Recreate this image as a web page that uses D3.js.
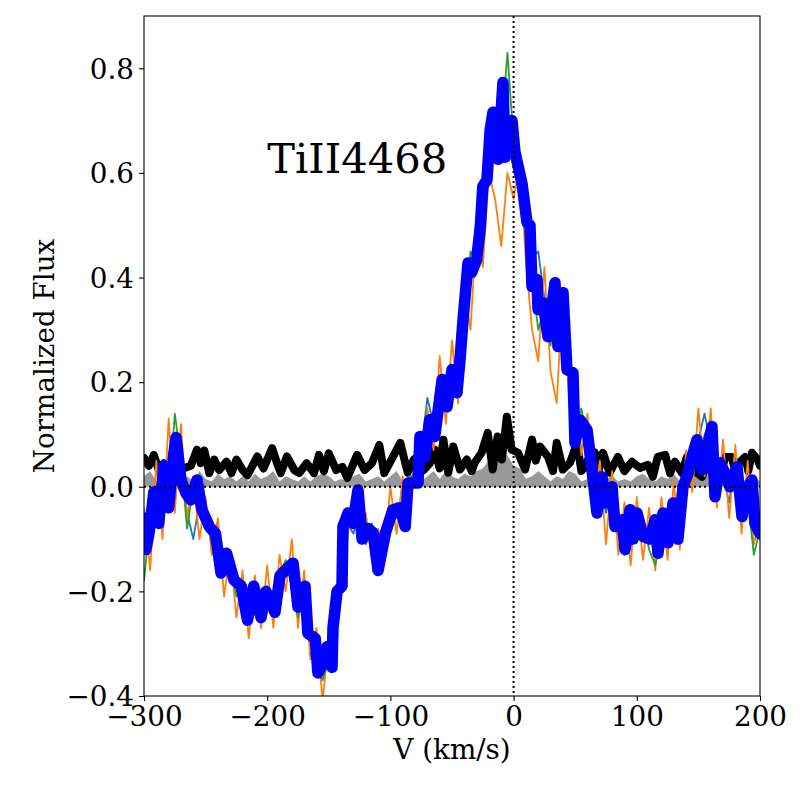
<!DOCTYPE html>
<html>
<head>
<meta charset="utf-8">
<script src="https://cdn.jsdelivr.net/npm/d3@7"></script>
<style>
  body { margin: 0; background: #fff; }
  text { font-family: 'DejaVu Serif', serif; }
</style>
</head>
<body>
<div id="app"></div>
<script>
// Data
const lineName = 'TiII4468';
const xTicks = [-300, -200, -100, 0, 100, 200];
const yTicks = [-0.4, -0.2, 0.0, 0.2, 0.4, 0.6, 0.8];

// 5 km/s grid used by the three thin spectra and the grey band
const vGrid = [-300, -295, -290, -285, -280, -275, -270, -265, -260, -255,
  -250, -245, -240, -235, -230, -225, -220, -215, -210, -205,
  -200, -195, -190, -185, -180, -175, -170, -165, -160, -155,
  -150, -145, -140, -135, -130, -125, -120, -115, -110, -105,
  -100, -95, -90, -85, -80, -75, -70, -65, -60, -55,
  -50, -45, -40, -35, -30, -25, -20, -15, -10, -5,
  0, 5, 10, 15, 20, 25, 30, 35, 40, 45,
  50, 55, 60, 65, 70, 75, 80, 85, 90, 95,
  100, 105, 110, 115, 120, 125, 130, 135, 140, 145,
  150, 155, 160, 165, 170, 175, 180, 185, 190, 195, 200];

const fluxTeal = [-0.1, -0.05, -0.02, 0.03, -0.04, 0.09, 0.03, -0.05, -0.1, -0.03,
  -0.07, -0.09, -0.1, -0.16, -0.17, -0.2, -0.22, -0.21, -0.22, -0.22,
  -0.19, -0.24, -0.2, -0.15, -0.17, -0.24, -0.19, -0.3, -0.31, -0.36,
  -0.3, -0.24, -0.17, -0.07, -0.09, -0.04, -0.11, -0.08, -0.12, -0.1,
  -0.04, -0.06, -0.03, 0.01, 0.03, 0.07, 0.17, 0.12, 0.2, 0.15,
  0.23, 0.2, 0.36, 0.4, 0.47, 0.53, 0.66, 0.7, 0.72, 0.64,
  0.7, 0.62, 0.5, 0.44, 0.45, 0.36, 0.3, 0.33, 0.3, 0.24,
  0.14, 0.1, 0.12, -0.02, 0.01, -0.05, -0.01, -0.09, -0.08, -0.12,
  -0.05, -0.1, -0.08, -0.11, -0.05, -0.1, -0.07, -0.04, 0.0, 0.06,
  0.09, 0.14, 0.08, 0.04, 0.02, -0.03, 0.05, -0.05, 0.01, -0.06, -0.1];

const fluxOrange = [-0.04, -0.16, 0.05, -0.1, 0.13, -0.05, 0.12, -0.06, 0.02, -0.1,
  -0.02, -0.13, -0.06, -0.21, -0.12, -0.25, -0.16, -0.29, -0.17, -0.27,
  -0.15, -0.27, -0.13, -0.2, -0.1, -0.27, -0.16, -0.33, -0.27, -0.41,
  -0.29, -0.3, -0.14, -0.1, -0.02, -0.1, -0.05, -0.14, -0.08, -0.13,
  0.0, -0.09, 0.02, -0.05, 0.05, 0.0, 0.15, 0.07, 0.25, 0.12,
  0.28, 0.16, 0.38, 0.3, 0.5, 0.42, 0.6, 0.55, 0.46, 0.6,
  0.55, 0.62, 0.43, 0.3, 0.24, 0.42, 0.22, 0.16, 0.38, 0.17,
  0.2, 0.06, 0.14, -0.04, 0.05, -0.11, 0.03, -0.13, -0.03, -0.15,
  -0.02, -0.14, -0.04, -0.16, -0.02, -0.14, 0.01, -0.12, 0.07, -0.01,
  0.15, 0.02, 0.15, -0.04, 0.09, -0.06, 0.08, -0.09, 0.05, -0.11, -0.06];

const fluxGreen = [-0.18, -0.06, -0.05, 0.05, -0.03, 0.14, 0.05, -0.08, 0.0, -0.05,
  -0.04, -0.11, -0.1, -0.17, -0.14, -0.21, -0.2, -0.24, -0.18, -0.25,
  -0.2, -0.22, -0.17, -0.14, -0.19, -0.25, -0.18, -0.29, -0.34, -0.37,
  -0.33, -0.26, -0.18, -0.04, -0.08, -0.02, -0.1, -0.07, -0.15, -0.08,
  -0.06, -0.03, -0.07, 0.02, 0.0, 0.1, 0.09, 0.13, 0.17, 0.19,
  0.2, 0.24, 0.32, 0.45, 0.43, 0.57, 0.62, 0.72, 0.68, 0.83,
  0.66, 0.64, 0.51, 0.4, 0.3, 0.34, 0.27, 0.35, 0.31, 0.27,
  0.11, 0.15, 0.08, 0.03, -0.02, -0.02, -0.06, -0.05, -0.13, -0.08,
  -0.09, -0.06, -0.12, -0.15, -0.09, -0.06, -0.08, -0.02, 0.04, 0.06,
  0.04, 0.1, 0.12, 0.0, 0.05, 0.0, 0.01, -0.03, -0.02, -0.13, -0.08];

const fluxGrey = [0.02, 0.03, 0.01, 0.02, 0.015, 0.02, 0.01, 0.02, 0.01, 0.03,
  0.015, 0.01, 0.025, 0.015, 0.02, 0.01, 0.02, 0.01, 0.025, 0.015,
  0.02, 0.03, 0.01, 0.02, 0.015, 0.01, 0.02, 0.01, 0.02, 0.025,
  0.02, 0.01, 0.015, 0.01, 0.02, 0.025, 0.01, 0.015, 0.02, 0.01,
  0.02, 0.03, 0.01, 0.02, 0.025, 0.01, 0.02, 0.03, 0.015, 0.03,
  0.02, 0.015, 0.025, 0.02, 0.03, 0.035, 0.05, 0.03, 0.07, 0.06,
  0.04, 0.035, 0.015, 0.02, 0.03, 0.02, 0.01, 0.02, 0.015, 0.03,
  0.025, 0.01, 0.015, 0.02, 0.01, 0.015, 0.02, 0.01, 0.015, 0.01,
  0.02, 0.025, 0.015, 0.01, 0.02, 0.015, 0.025, 0.01, 0.02, 0.03,
  0.015, 0.02, 0.025, 0.01, 0.02, 0.015, 0.02, 0.01, 0.015, 0.02, 0.01];

// Thick blue (mean) spectrum
const vBlue = [-300, -298.5, -296, -292, -288, -284, -280, -276, -274, -270,
  -266, -262, -257, -253, -247, -242, -237.5, -233, -227, -221,
  -216, -211, -205, -201, -197, -193.7, -189.6, -185.6, -179, -175,
  -169.3, -167, -161, -158.8, -154.7, -151.5, -147.4, -146.6, -143.3, -139.3,
  -138.5, -134.4, -130.4, -126.3, -123, -118, -114, -110, -104, -98,
  -92, -88, -85.7, -77.6, -76, -72, -68, -64, -58, -54,
  -50, -46, -43.5, -41, -37, -34, -30, -27, -25, -21.6,
  -19, -16.7, -12.7, -8.6, -7, -4.5, -1.3, 1.1, 6.8, 10.9,
  13.3, 14.9, 19, 19.8, 23.9, 27.9, 33.6, 36, 40.1, 43.3,
  48.2, 49.8, 53.9, 59.6, 63.6, 67.7, 71.8, 74.2, 79.9, 82.3,
  88, 90.4, 94.5, 96.9, 100.2, 105, 110.7, 114.8, 117.2, 121.3,
  125.3, 129.4, 133.4, 137.5, 141.6, 144.8, 148.9, 152.9, 157, 161,
  163.5, 167.5, 171.6, 175.6, 181.3, 185.4, 189.4, 193.5, 195.9, 200];
const fluxBlue = [-0.06, -0.12, -0.09, -0.01, -0.07, 0.04, -0.04, 0.06, 0.094, 0.013,
  -0.012, -0.025, 0.013, -0.044, -0.076, -0.089, -0.165, -0.127, -0.178, -0.19,
  -0.255, -0.19, -0.25, -0.2, -0.22, -0.24, -0.17, -0.16, -0.146, -0.23,
  -0.19, -0.28, -0.29, -0.356, -0.337, -0.306, -0.345, -0.27, -0.2, -0.19,
  -0.076, -0.05, -0.07, -0.006, -0.1, -0.08, -0.088, -0.16, -0.088, -0.044,
  -0.04, -0.076, 0.007, 0.007, 0.096, 0.057, 0.128, 0.096, 0.205, 0.153,
  0.224, 0.18, 0.243, 0.32, 0.428, 0.41, 0.434, 0.498, 0.574, 0.587,
  0.683, 0.716, 0.626, 0.773, 0.63, 0.658, 0.70, 0.64, 0.58, 0.505,
  0.5, 0.383, 0.396, 0.339, 0.352, 0.287, 0.39, 0.268, 0.371, 0.224,
  0.218, 0.084, 0.128, 0.109, 0.033, -0.05, 0.019, -0.031, 0.0, -0.076,
  -0.063, -0.12, -0.044, -0.1, -0.05, -0.095, -0.1, -0.063, -0.127, -0.05,
  -0.107, -0.031, -0.1, 0.0, 0.026, 0.057, 0.09, 0.033, 0.071, 0.115,
  -0.019, 0.046, 0.026, 0.0, 0.038, -0.057, -0.006, 0.013, -0.07, -0.09];

// Thick black (scatter) spectrum
const vBlack = [-300, -296, -292, -288, -284, -278, -273, -268, -262, -257,
  -254, -251, -247, -243, -239, -233, -229, -225, -220, -216,
  -208, -203, -196, -192, -189, -184, -178, -174, -168, -162,
  -158, -154, -150, -144, -139, -135, -127, -121, -115, -109,
  -105, -100, -92, -86, -81, -78, -73, -68, -64, -60,
  -57, -53, -49, -43.5, -38, -34, -31.6, -26, -21, -17,
  -13, -9.5, -5.5, -1.6, 3.6, 9.3, 15, 18, 21.4, 28,
  32, 35, 40, 45.8, 51.5, 55, 58, 62, 66, 69,
  72.6, 78, 84.7, 90, 96, 102.6, 109, 113, 117, 123,
  127, 131, 136.7, 140.7, 145.6, 153, 157, 161, 167.5, 171.6,
  177, 180, 183.8, 188, 190.5, 193.5, 198, 200];
const fluxBlack = [0.055, 0.04, 0.061, 0.032, 0.045, 0.03, 0.046, 0.035, 0.04, 0.071,
  0.045, 0.069, 0.026, 0.052, 0.032, 0.048, 0.026, 0.052, 0.032, 0.022,
  0.058, 0.035, 0.074, 0.045, 0.026, 0.058, 0.032, 0.026, 0.045, 0.026,
  0.061, 0.03, 0.064, 0.032, 0.038, 0.017, 0.061, 0.032, 0.045, 0.08,
  0.026, 0.048, 0.084, 0.027, 0.052, 0.057, 0.032, 0.045, 0.071, 0.035,
  0.09, 0.027, 0.077, 0.033, 0.052, 0.03, 0.046, 0.065, 0.103, 0.033,
  0.096, 0.052, 0.134, 0.071, 0.065, 0.033, 0.09, 0.05, 0.077, 0.057,
  0.03, 0.084, 0.033, 0.046, 0.084, 0.03, 0.038, 0.06, 0.065, 0.03,
  0.065, 0.027, 0.057, 0.03, 0.048, 0.036, 0.042, 0.019, 0.057, 0.061,
  0.026, 0.048, 0.026, 0.057, 0.033, 0.019, 0.045, 0.026, 0.013, 0.057,
  0.057, 0.03, 0.048, 0.057, 0.03, 0.065, 0.052, 0.04];

// Constants
const width = 800;
const height = 800;
const margin = ({ top: 16, right: 40, bottom: 104, left: 144 });
const plotWidth = width - margin.left - margin.right;
const plotHeight = height - margin.top - margin.bottom;
const fontSize = 27.8;

const xScale = d3.scaleLinear().domain([-300, 200]).range([0, plotWidth]);
const yScale = d3.scaleLinear().domain([-0.4, 0.9]).range([plotHeight, 0]);

const svg = d3.select('#app')
  .append('svg')
  .attr('width', width)
  .attr('height', height);

svg.append('defs').append('clipPath')
  .attr('id', 'clip')
  .append('rect')
  .attr('width', plotWidth)
  .attr('height', plotHeight);

const plot = svg.append('g')
  .attr('transform', `translate(${margin.left}, ${margin.top})`);

const marks = plot.append('g').attr('clip-path', 'url(#clip)');

const toPairs = (xs, ys) => xs.map((v, i) => [v, ys[i]]);
const line = d3.line()
  .x((d) => xScale(d[0]))
  .y((d) => yScale(d[1]));

// Grey band
const area = d3.area()
  .x((d) => xScale(d[0]))
  .y0(yScale(0))
  .y1((d) => yScale(d[1]));
marks.append('path')
  .attr('d', area(toPairs(vGrid, fluxGrey)))
  .attr('fill', '#999999');

// Black scatter line
marks.append('path')
  .attr('d', line(toPairs(vBlack, fluxBlack)))
  .attr('fill', 'none')
  .attr('stroke', 'black')
  .attr('stroke-width', 8)
  .attr('stroke-linejoin', 'round')
  .attr('stroke-linecap', 'round');

// Individual spectra
const thin = [
  { values: fluxTeal, color: '#1f77b4' },
  { values: fluxOrange, color: '#ff7f0e' },
  { values: fluxGreen, color: '#2ca02c' },
];
thin.forEach((s) => {
  marks.append('path')
    .attr('d', line(toPairs(vGrid, s.values)))
    .attr('fill', 'none')
    .attr('stroke', s.color)
    .attr('stroke-width', 1.8)
    .attr('stroke-linejoin', 'round');
});

// Mean spectrum
marks.append('path')
  .attr('d', line(toPairs(vBlue, fluxBlue)))
  .attr('fill', 'none')
  .attr('stroke', '#0000ff')
  .attr('stroke-width', 11.5)
  .attr('stroke-linejoin', 'round')
  .attr('stroke-linecap', 'round');

// Zero lines
plot.append('line')
  .attr('x1', 0).attr('x2', plotWidth)
  .attr('y1', yScale(0)).attr('y2', yScale(0))
  .attr('stroke', 'black')
  .attr('stroke-width', 2)
  .attr('stroke-dasharray', '2,3');
plot.append('line')
  .attr('x1', xScale(0)).attr('x2', xScale(0))
  .attr('y1', 0).attr('y2', plotHeight)
  .attr('stroke', 'black')
  .attr('stroke-width', 2)
  .attr('stroke-dasharray', '2,3');

// Axes
const fmtY = (d) => d3.format('.1f')(d).replace('-', '\u2212');
const fmtX = (d) => String(d).replace('-', '\u2212');

const xAxis = plot.append('g')
  .attr('transform', `translate(0, ${plotHeight})`)
  .call(d3.axisBottom(xScale).tickValues(xTicks).tickFormat(fmtX)
    .tickSize(5).tickPadding(5));
const yAxis = plot.append('g')
  .call(d3.axisLeft(yScale).tickValues(yTicks).tickFormat(fmtY)
    .tickSize(5).tickPadding(5));

[xAxis, yAxis].forEach((ax) => {
  ax.select('.domain').remove();
  ax.selectAll('line').attr('stroke', 'black').attr('stroke-width', 1.1);
  ax.selectAll('text')
    .attr('fill', 'black')
    .style('font-family', 'DejaVu Serif')
    .style('font-size', `${fontSize}px`);
});
yAxis.selectAll('text').attr('dy', '0.35em');

// Frame
plot.append('rect')
  .attr('width', plotWidth)
  .attr('height', plotHeight)
  .attr('fill', 'none')
  .attr('stroke', 'black')
  .attr('stroke-width', 1.1);

// Labels
svg.append('text')
  .attr('text-anchor', 'middle')
  .attr('x', margin.left + plotWidth / 2)
  .attr('y', 759)
  .style('font-size', `${fontSize}px`)
  .text('V (km/s)');
svg.append('text')
  .attr('text-anchor', 'middle')
  .attr('transform', `translate(54, ${margin.top + plotHeight / 2}) rotate(-90)`)
  .style('font-size', `${fontSize}px`)
  .text('Normalized Flux');

plot.append('text')
  .attr('x', xScale(-200))
  .attr('y', yScale(0.6))
  .style('font-size', '41.7px')
  .text(lineName);
</script>
</body>
</html>
